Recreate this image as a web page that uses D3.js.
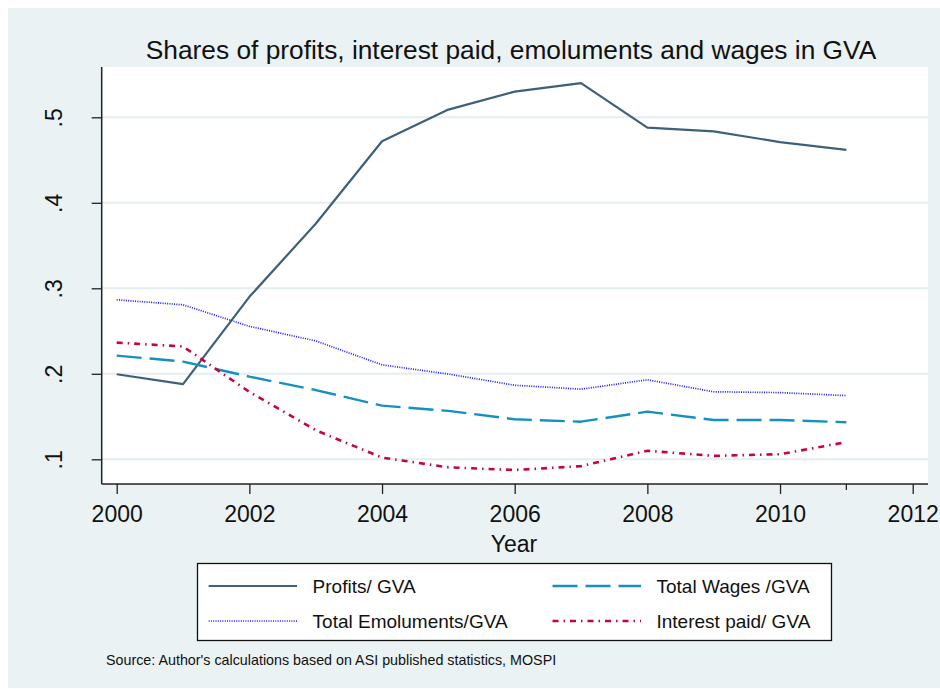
<!DOCTYPE html>
<html>
<head>
<meta charset="utf-8">
<script src="https://cdn.jsdelivr.net/npm/d3@7"></script>
<style>
  body { margin: 0; background: #fff; }
  svg text { font-family: "Liberation Sans", Arial, sans-serif; fill: #111; }
</style>
</head>
<body>
<div id="chart"></div>
<script>

// data
var years = [2000, 2001, 2002, 2003, 2004, 2005, 2006, 2007, 2008, 2009, 2010, 2011];
var profits     = [0.1995, 0.188, 0.290, 0.3755, 0.472, 0.509, 0.530, 0.540, 0.488, 0.4836, 0.471, 0.462];
var wages       = [0.2213, 0.2143, 0.1967, 0.181, 0.1628, 0.1566, 0.1468, 0.144, 0.1557, 0.146, 0.146, 0.1433];
var emoluments  = [0.2866, 0.2807, 0.2555, 0.2385, 0.2105, 0.1997, 0.1866, 0.182, 0.193, 0.179, 0.178, 0.1745];
var interest    = [0.2365, 0.232, 0.1788, 0.134, 0.102, 0.0906, 0.0875, 0.092, 0.110, 0.104, 0.106, 0.120];

var yTicks = [0.1, 0.2, 0.3, 0.4, 0.5];
var xTicks = [2000, 2002, 2004, 2006, 2008, 2010, 2012];
var xMinorTicks = [2011];

var seriesNames = ["Profits/ GVA", "Total Wages /GVA", "Total Emoluments/GVA", "Interest paid/ GVA"];

var series = [
  {name: seriesNames[0], values: profits,    color: "#3f6079", width: 2.2, dash: null},
  {name: seriesNames[1], values: wages,      color: "#1590c0", width: 2.4, dash: "25,8"},
  {name: seriesNames[2], values: emoluments, color: "#1c1cff", width: 1.7, dash: "1,1.3"},
  {name: seriesNames[3], values: interest,   color: "#c4063b", width: 2.6, dash: "6,5,1.5,5"}
];

var width = 940, height = 689;
var plot = {left: 101.7, right: 928, top: 67, bottom: 484};

var svg = d3.select("#chart").append("svg")
    .attr("width", width)
    .attr("height", height);

// outer graph region
svg.append("rect")
  .attr("x", 8).attr("y", 8)
  .attr("width", width - 8).attr("height", height - 9)
  .attr("fill", "#eaf2f3");

// plot region
svg.append("rect")
  .attr("x", plot.left).attr("y", plot.top)
  .attr("width", plot.right - plot.left).attr("height", plot.bottom - plot.top)
  .attr("fill", "#fff");

var x = d3.scaleLinear().domain([2000, 2012]).range([116.7, 912.7]);
var y = d3.scaleLinear().domain([0.1, 0.5]).range([459.3, 117.3]);

// gridlines
svg.append("g").selectAll("line")
  .data(yTicks)
  .enter().append("line")
  .attr("x1", plot.left).attr("x2", plot.right)
  .attr("y1", function(d){ return y(d); })
  .attr("y2", function(d){ return y(d); })
  .attr("stroke", "#e4edf0")
  .attr("stroke-width", 2);

// y axis
var yAxis = d3.axisLeft(y).tickValues(yTicks).tickSize(10).tickPadding(0)
  .tickFormat(function(d){ return d3.format(".1f")(d).replace(/^0/, ""); });
var gy = svg.append("g")
  .attr("transform", "translate(" + plot.left + ",0)")
  .call(yAxis);
gy.select(".domain").attr("d", "M0," + plot.top + "V" + plot.bottom).attr("stroke", "#222").attr("stroke-width", 1.5);
gy.selectAll(".tick line").attr("stroke", "#222").attr("stroke-width", 1.3);
gy.selectAll(".tick text")
  .attr("x", null).attr("dy", null)
  .attr("text-anchor", "middle")
  .attr("transform", "translate(" + (62 - plot.left) + ",0) rotate(-90)")
  .style("font-size", "23px")
  .style("font-family", "'Liberation Sans', Arial, sans-serif")
  .attr("fill", "#111");

// x axis
var xAxis = d3.axisBottom(x).tickValues(xTicks).tickSize(10).tickPadding(0)
  .tickFormat(d3.format("d"));
var gx = svg.append("g")
  .attr("transform", "translate(0," + plot.bottom + ")")
  .call(xAxis);
gx.select(".domain").attr("d", "M" + plot.left + ",0H" + plot.right).attr("stroke", "#222").attr("stroke-width", 1.5);
gx.selectAll(".tick line").attr("stroke", "#222").attr("stroke-width", 1.3);
gx.selectAll(".tick text")
  .attr("y", 38).attr("dy", null)
  .style("font-size", "23px")
  .style("font-family", "'Liberation Sans', Arial, sans-serif")
  .attr("fill", "#111");

// minor tick
svg.append("g").selectAll("line")
  .data(xMinorTicks)
  .enter().append("line")
  .attr("x1", function(d){ return x(d); })
  .attr("x2", function(d){ return x(d); })
  .attr("y1", plot.bottom).attr("y2", plot.bottom + 6)
  .attr("stroke", "#222").attr("stroke-width", 1.3);

// lines
var line = d3.line()
  .x(function(d, i){ return x(years[i]); })
  .y(function(d){ return y(d); });

svg.append("g").selectAll("path")
  .data(series)
  .enter().append("path")
  .attr("d", function(d){ return line(d.values); })
  .attr("fill", "none")
  .attr("stroke", function(d){ return d.color; })
  .attr("stroke-width", function(d){ return d.width; })
  .attr("stroke-dasharray", function(d){ return d.dash; })
  .attr("stroke-linejoin", "round");

// title
svg.append("text")
  .attr("x", 511).attr("y", 59)
  .attr("text-anchor", "middle")
  .style("font-size", "26.3px")
  .text("Shares of profits, interest paid, emoluments and wages in GVA");

// x title
svg.append("text")
  .attr("x", 514).attr("y", 552)
  .attr("text-anchor", "middle")
  .style("font-size", "23px")
  .text("Year");

// legend
var legend = svg.append("g");
legend.append("rect")
  .attr("x", 197.5).attr("y", 563.5)
  .attr("width", 634).attr("height", 77)
  .attr("fill", "#fff")
  .attr("stroke", "#111")
  .attr("stroke-width", 1.3);

var legPos = [
  {lx: 208.6, ty: 586},
  {lx: 552.5, ty: 586},
  {lx: 208.6, ty: 621},
  {lx: 552.5, ty: 621}
];

var item = legend.selectAll("g.item")
  .data(series)
  .enter().append("g")
  .attr("class", "item")
  .attr("transform", function(d, i){ return "translate(" + legPos[i].lx + "," + legPos[i].ty + ")"; });

item.append("line")
  .attr("x1", 0).attr("x2", 88.5)
  .attr("y1", 0).attr("y2", 0)
  .attr("stroke", function(d){ return d.color; })
  .attr("stroke-width", function(d){ return d.width; })
  .attr("stroke-dasharray", function(d){ return d.dash; });

item.append("text")
  .attr("x", 104).attr("y", 7)
  .style("font-size", "19px")
  .text(function(d){ return d.name; });

// source note
svg.append("text")
  .attr("x", 106).attr("y", 665)
  .style("font-size", "14.3px")
  .text("Source: Author's calculations based on ASI published statistics, MOSPI");

</script>
</body>
</html>
